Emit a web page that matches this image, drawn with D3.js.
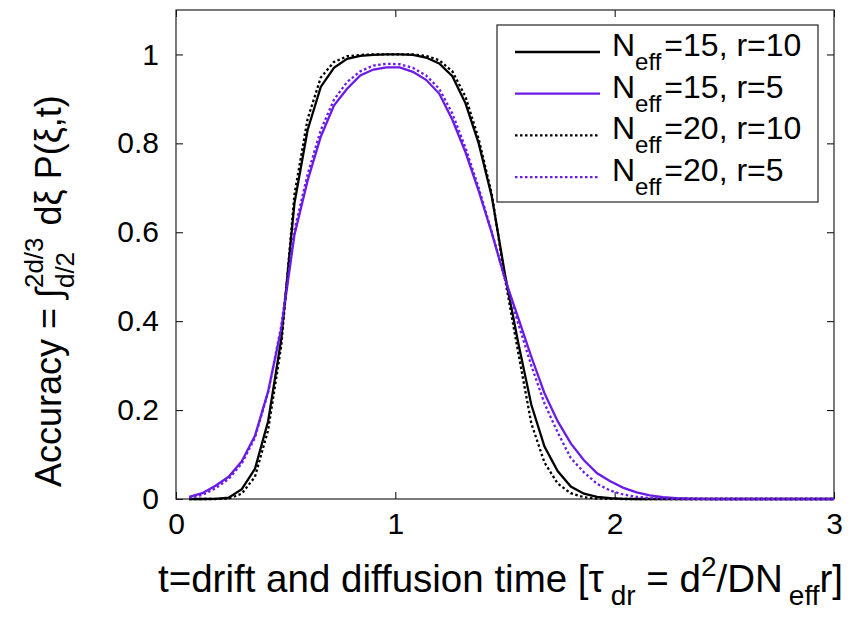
<!DOCTYPE html>
<html>
<head>
<meta charset="utf-8">
<script src="https://cdn.jsdelivr.net/npm/d3@7"></script>
<style>
  body { margin: 0; background: #fff; }
  svg text { font-family: "Liberation Sans", Arial, sans-serif; fill: #000; }
</style>
</head>
<body>
<div id="chart"></div>
<script>
// time samples (units of tau_dr)
const tValues = [0.06, 0.12, 0.18, 0.24, 0.30, 0.36, 0.42, 0.48, 0.54, 0.60,
  0.66, 0.72, 0.78, 0.84, 0.90, 0.96, 1.02, 1.08, 1.14, 1.20,
  1.26, 1.32, 1.38, 1.44, 1.50, 1.56, 1.62, 1.68, 1.74, 1.80,
  1.86, 1.92, 1.98, 2.04, 2.10, 2.16, 2.22, 2.28, 2.34, 2.40,
  2.46, 2.52, 2.58, 2.64, 2.70, 2.76, 2.82, 2.88, 2.94, 3.00];

// Neff=15, r=10
const acc15r10 = [0, 0, 0.0005, 0.003, 0.022, 0.068, 0.175, 0.36, 0.665, 0.83,
  0.927, 0.97, 0.99, 0.997, 0.999, 1.0, 1.0, 0.999, 0.993, 0.98,
  0.951, 0.89, 0.80, 0.68, 0.505, 0.352, 0.212, 0.118, 0.063, 0.028,
  0.012, 0.005, 0.002, 0.0005, 0, 0, 0, 0, 0, 0,
  0, 0, 0, 0, 0, 0, 0, 0, 0, 0];
// Neff=15, r=5
const acc15r5 = [0.005, 0.013, 0.03, 0.05, 0.085, 0.142, 0.242, 0.383, 0.594, 0.716,
  0.815, 0.885, 0.923, 0.953, 0.966, 0.971, 0.971, 0.961, 0.943, 0.912,
  0.853, 0.78, 0.693, 0.598, 0.495, 0.408, 0.32, 0.238, 0.175, 0.125,
  0.087, 0.058, 0.04, 0.025, 0.015, 0.008, 0.004, 0.002, 0.001, 0.0005,
  0, 0, 0, 0, 0, 0, 0, 0, 0, 0];
// Neff=20, r=10
const acc20r10 = [0, 0, 0, 0.001, 0.012, 0.05, 0.155, 0.345, 0.685, 0.855,
  0.948, 0.983, 0.996, 0.999, 1.0, 1.0, 1.0, 1.0, 0.997, 0.987,
  0.962, 0.905, 0.81, 0.685, 0.495, 0.33, 0.17, 0.082, 0.035, 0.013,
  0.004, 0.001, 0.0003, 0, 0, 0, 0, 0, 0, 0,
  0, 0, 0, 0, 0, 0, 0, 0, 0, 0];
// Neff=20, r=5
const acc20r5 = [0.003, 0.009, 0.024, 0.045, 0.08, 0.138, 0.24, 0.39, 0.605, 0.73,
  0.83, 0.898, 0.938, 0.962, 0.975, 0.979, 0.978, 0.97, 0.953, 0.923,
  0.867, 0.79, 0.70, 0.60, 0.495, 0.395, 0.30, 0.215, 0.15, 0.092,
  0.06, 0.034, 0.019, 0.01, 0.005, 0.002, 0.001, 0, 0, 0,
  0, 0, 0, 0, 0, 0, 0, 0, 0, 0];

const xTicks = [0, 1, 2, 3];
const yTicks = [0, 0.2, 0.4, 0.6, 0.8, 1];
const seriesNeff = ["15", "15", "20", "20"];
const seriesR = ["10", "5", "10", "5"];

const width = 853, height = 618;
const margin = { top: 10, right: 19, bottom: 119, left: 176 };
const purple = "#6a1be8";

const styles = [
  { color: "#000", dash: null },
  { color: purple, dash: null },
  { color: "#000", dash: "2.5,2.5" },
  { color: purple, dash: "2.5,2.5" }
];
const allSeries = [acc15r10, acc15r5, acc20r10, acc20r5];

const x = d3.scaleLinear().domain([0, 3]).range([margin.left, width - margin.right]);
const y = d3.scaleLinear().domain([0, 1.1]).range([height - margin.bottom, margin.top]);

const svg = d3.select("#chart").append("svg")
  .attr("width", width)
  .attr("height", height);

// inward ticks on all four sides (matlab box)
const tickLen = 7;
svg.append("g")
  .attr("transform", `translate(0,${y(0)})`)
  .call(d3.axisBottom(x).tickValues(xTicks).tickFormat(d3.format("d"))
    .tickSizeInner(-tickLen).tickSizeOuter(0).tickPadding(14))
  .call(g => g.select(".domain").remove())
  .call(g => g.selectAll("text").attr("font-size", 30).attr("dy", "0.71em"));

svg.append("g")
  .attr("transform", `translate(0,${y(1.1)})`)
  .call(d3.axisTop(x).tickValues(xTicks).tickFormat("").tickSizeInner(-tickLen).tickSizeOuter(0))
  .call(g => g.select(".domain").remove());

svg.append("g")
  .attr("transform", `translate(${x(0)},0)`)
  .call(d3.axisLeft(y).tickValues(yTicks).tickFormat(d => d === 0 || d === 1 ? d3.format("d")(d) : d3.format(".1f")(d))
    .tickSizeInner(-tickLen).tickSizeOuter(0).tickPadding(17))
  .call(g => g.select(".domain").remove())
  .call(g => g.selectAll("text").attr("font-size", 30));

svg.append("g")
  .attr("transform", `translate(${x(3)},0)`)
  .call(d3.axisRight(y).tickValues(yTicks).tickFormat("").tickSizeInner(-tickLen).tickSizeOuter(0))
  .call(g => g.select(".domain").remove());

svg.selectAll(".tick line").attr("stroke", "#000").attr("stroke-width", 1);

// frame
svg.append("rect")
  .attr("x", x(0)).attr("y", y(1.1))
  .attr("width", x(3) - x(0)).attr("height", y(0) - y(1.1))
  .attr("fill", "none").attr("stroke", "#222").attr("stroke-width", 1.2);

// curves
const line = d3.line()
  .x((d, i) => x(tValues[i]))
  .y(d => y(d));

svg.selectAll("path.curve")
  .data(allSeries)
  .enter().append("path")
  .attr("class", "curve")
  .attr("d", line)
  .attr("fill", "none")
  .attr("stroke", (d, i) => styles[i].color)
  .attr("stroke-width", 2.3)
  .attr("stroke-dasharray", (d, i) => styles[i].dash);

// legend
const legend = svg.append("g");
legend.append("rect")
  .attr("x", 497).attr("y", 25).attr("width", 321).attr("height", 177)
  .attr("fill", "#fff").attr("stroke", "#222").attr("stroke-width", 1.2);

const rows = legend.selectAll("g.row")
  .data(seriesNeff)
  .enter().append("g")
  .attr("class", "row")
  .attr("transform", (d, i) => `translate(0,${52 + i * 41.7})`);

rows.append("line")
  .attr("x1", 515).attr("x2", 600)
  .attr("stroke", (d, i) => styles[i].color)
  .attr("stroke-width", 2.3)
  .attr("stroke-dasharray", (d, i) => styles[i].dash);

const rowText = rows.append("text")
  .attr("x", 612).attr("y", 4)
  .attr("font-size", 32);
rowText.append("tspan").text("N");
rowText.append("tspan").attr("font-size", 24).attr("dy", 14).text("eff");
rowText.append("tspan").attr("dy", -14).attr("dx", 3).text((d, i) => `=${d}, r=${seriesR[i]}`);

// x label, starts at left edge as in the picture
const xl = svg.append("text")
  .attr("x", 158).attr("y", 592)
  .attr("font-size", 38.5);
xl.append("tspan").text("t=drift and diffusion time [τ");
xl.append("tspan").attr("font-size", 28).attr("dy", 13).attr("dx", 7).text("dr");
xl.append("tspan").attr("dy", -13).text(" = d");
xl.append("tspan").attr("font-size", 28).attr("dy", -16).text("2");
xl.append("tspan").attr("dy", 16).text("/DN");
xl.append("tspan").attr("font-size", 28).attr("dy", 13).attr("dx", 6).text("eff");
xl.append("tspan").attr("dy", -13).text("r]");

// y label, written upward from its bottom end
const yl = svg.append("text")
  .attr("transform", "translate(61,487) rotate(-90)")
  .attr("font-size", 36);
yl.append("tspan").text("Accuracy = ∫");
const sup = yl.append("tspan").attr("font-size", 26).attr("dy", -18).text("2d/3");
const supW = sup.node().getComputedTextLength();
const sub = yl.append("tspan").attr("font-size", 26).attr("dy", 31).attr("dx", -supW).text("d/2");
const subW = sub.node().getComputedTextLength();
yl.append("tspan").attr("dy", -13).attr("dx", supW - subW + 2).text(" dξ P(ξ,t)");
</script>
</body>
</html>
